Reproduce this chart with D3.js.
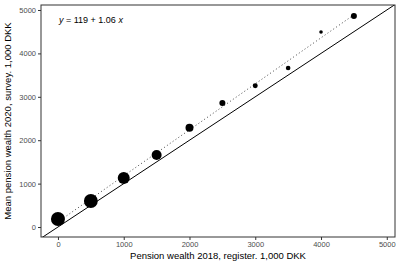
<!DOCTYPE html>
<html>
<head>
<meta charset="utf-8">
<script src="https://cdn.jsdelivr.net/npm/d3@7"></script>
<style>
  body { margin: 0; background: #fff; }
  text { font-family: "Liberation Sans", Arial, sans-serif; }
</style>
</head>
<body>
<svg id="chart" width="398" height="262"></svg>
<script>
// Register wealth 2018 (bin centres) and mean survey wealth 2020, 1,000 DKK.
const registerWealth = [0, 500, 1000, 1500, 2000, 2500, 3000, 3500, 4000, 4500];
const surveyWealth   = [184, 599, 1129, 1659, 2288, 2857, 3256, 3664, 4493, 4862];
// Number of respondents in each bin (point size).
const nObs           = [490, 480, 360, 250, 160, 90, 62, 53, 32, 90];
const ticks          = [0, 1000, 2000, 3000, 4000, 5000];
const fitIntercept   = 119;
const fitSlope       = 1.06;

const width  = 398, height = 262;
const margin = { top: 5, right: 3, bottom: 25, left: 41 };

const svg = d3.select('#chart');

const x = d3.scaleLinear().domain([-258, 5125]).range([margin.left, width - margin.right]);
const y = d3.scaleLinear().domain([-230, 5115]).range([height - margin.bottom, margin.top]);
const r = d3.scaleSqrt().domain([0, d3.max(nObs)]).range([0, 7]);

const data = registerWealth.map((d, i) => ({ x: d, y: surveyWealth[i], n: nObs[i] }));

// Clip for the 45 degree line.
svg.append('clipPath').attr('id', 'clip')
  .append('rect')
    .attr('x', margin.left).attr('y', margin.top)
    .attr('width', width - margin.left - margin.right)
    .attr('height', height - margin.top - margin.bottom);

// 45 degree line.
svg.append('line')
  .attr('clip-path', 'url(#clip)')
  .attr('x1', x(-500)).attr('y1', y(-500))
  .attr('x2', x(6000)).attr('y2', y(6000))
  .attr('stroke', '#000').attr('stroke-width', 1);

// Fitted regression line.
const xs = d3.extent(registerWealth);
svg.append('line')
  .attr('x1', x(xs[0])).attr('y1', y(fitIntercept + fitSlope * xs[0]))
  .attr('x2', x(xs[1])).attr('y2', y(fitIntercept + fitSlope * xs[1]))
  .attr('stroke', '#444').attr('stroke-width', 1)
  .attr('stroke-dasharray', '1,2.5');

// Points.
svg.append('g').selectAll('circle')
  .data(data)
  .enter()
  .append('circle')
    .attr('cx', d => x(d.x))
    .attr('cy', d => y(d.y))
    .attr('r', d => r(d.n))
    .attr('fill', '#000');

// Axes.
const fmt = d3.format('d');
const xAxis = svg.append('g')
  .attr('transform', `translate(0,${height - margin.bottom})`)
  .call(d3.axisBottom(x).tickValues(ticks).tickFormat(fmt).tickSize(3).tickPadding(2));
const yAxis = svg.append('g')
  .attr('transform', `translate(${margin.left},0)`)
  .call(d3.axisLeft(y).tickValues(ticks).tickFormat(fmt).tickSize(3).tickPadding(2));

[xAxis, yAxis].forEach(a => {
  a.select('.domain').remove();
  a.selectAll('.tick line').attr('stroke', '#333');
  a.selectAll('.tick text').attr('fill', '#4d4d4d').style('font-size', '7.5px')
    .style('font-family', '"Liberation Sans", Arial, sans-serif');
});

// Panel border.
svg.append('rect')
  .attr('x', margin.left).attr('y', margin.top)
  .attr('width', width - margin.left - margin.right)
  .attr('height', height - margin.top - margin.bottom)
  .attr('fill', 'none').attr('stroke', '#333').attr('stroke-width', 1);

// Axis titles.
svg.append('text')
  .attr('x', (margin.left + width - margin.right) / 2)
  .attr('y', 259)
  .attr('text-anchor', 'middle')
  .style('font-size', '9.5px')
  .text('Pension wealth 2018, register. 1,000 DKK');

svg.append('text')
  .attr('transform', `translate(11,${(margin.top + height - margin.bottom) / 2}) rotate(-90)`)
  .attr('text-anchor', 'middle')
  .style('font-size', '9.5px')
  .text('Mean pension wealth 2020, survey. 1,000 DKK');

// Regression equation.
const eq = svg.append('text')
  .attr('x', 59).attr('y', 23)
  .style('font-size', '9px');
eq.append('tspan').style('font-style', 'italic').text('y');
eq.append('tspan').text(` = ${fitIntercept} + ${fitSlope} `);
eq.append('tspan').style('font-style', 'italic').text('x');
</script>
</body>
</html>
